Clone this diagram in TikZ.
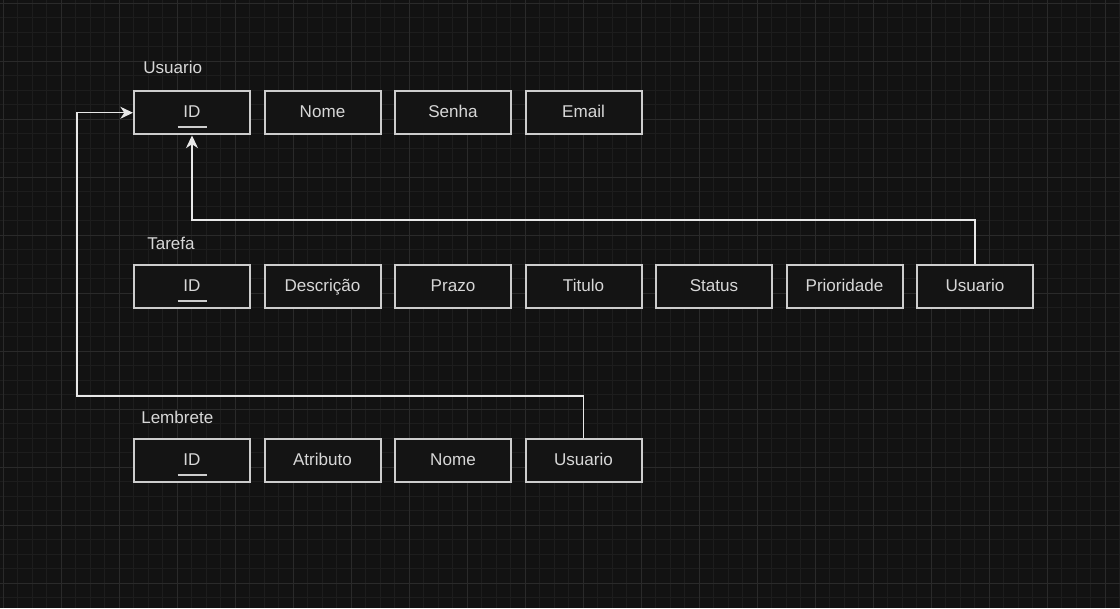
\documentclass[tikz,border=0pt]{standalone}
\usepackage{fontspec}
\setmainfont{Liberation Sans}
\usetikzlibrary{arrows.meta,calc}
\definecolor{bgc}{RGB}{18,18,18}
\definecolor{minorc}{RGB}{29,29,29}
\definecolor{majorc}{RGB}{42,42,42}
\definecolor{boxc}{RGB}{205,205,205}
\definecolor{boxfill}{RGB}{20,20,20}
\definecolor{textc}{RGB}{215,215,215}
\definecolor{linec}{RGB}{232,232,232}
\tikzset{
  cell/.style={draw=boxc, fill=boxfill, line width=1.5pt, minimum width=87pt, minimum height=32.6pt, inner sep=0pt, text height=9.2pt, text depth=2.7pt, text=textc, font=\fontsize{12.8pt}{15pt}\selectfont},
  keycell/.style={cell, path picture={\draw[boxc, line width=1.2pt] ($(path picture bounding box.center)+(-14.5,14.5)$) -- ($(path picture bounding box.center)+(14.5,14.5)$);}},
  tlabel/.style={anchor=west, inner sep=0pt, text=textc, font=\fontsize{12.8pt}{15pt}\selectfont},
  conn/.style={draw=linec, line width=1.1pt},
  arr/.style={conn, -{Stealth[length=9.5pt,width=9pt,inset=3pt]}},
  minorline/.style={draw=minorc, line width=0.75pt},
  majorline/.style={draw=majorc, line width=0.75pt}
}
\begin{document}
\begin{tikzpicture}[x=0.75pt, y=-0.75pt]
\fill[bgc] (0,0) rectangle (1120,608);
\useasboundingbox (0,0) rectangle (1120,608);
\foreach \i in {0,...,77} \draw[minorline] ({3+14.5*\i},0) -- ({3+14.5*\i},608);
\foreach \i in {0,...,41} \draw[minorline] (0,{3+14.5*\i}) -- (1120,{3+14.5*\i});
\foreach \i in {0,...,19} \draw[majorline] ({3+58*\i},0) -- ({3+58*\i},608);
\foreach \i in {0,...,10} \draw[majorline] (0,{3+58*\i}) -- (1120,{3+58*\i});

% labels
\node[tlabel] (lu) at (143,67) {Usuario};
\node[tlabel] (lt) at (147,243) {Tarefa};
\node[tlabel] (ll) at (141,417) {Lembrete};

% Usuario row
\node[keycell] (u1) at (192,112.75) {ID};
\node[cell] (u2) at (322.5,112.75) {Nome};
\node[cell] (u3) at (453,112.75) {Senha};
\node[cell] (u4) at (583.5,112.75) {Email};

% Tarefa row
\node[keycell] (t1) at (192,286.75) {ID};
\node[cell] (t2) at (322.5,286.75) {Descrição};
\node[cell] (t3) at (453,286.75) {Prazo};
\node[cell] (t4) at (583.5,286.75) {Titulo};
\node[cell] (t5) at (714,286.75) {Status};
\node[cell] (t6) at (844.5,286.75) {Prioridade};
\node[cell] (t7) at (975,286.75) {Usuario};

% Lembrete row
\node[keycell] (l1) at (192,460.75) {ID};
\node[cell] (l2) at (322.5,460.75) {Atributo};
\node[cell] (l3) at (453,460.75) {Nome};
\node[cell] (l4) at (583.5,460.75) {Usuario};

% connectors
\draw[arr] (t7.north) -- ++(0,-44) -| (u1.south);
\coordinate (bend) at (77,396);
\draw[arr] (l4.north) |- (bend) |- (u1.west);
\end{tikzpicture}
\end{document}
